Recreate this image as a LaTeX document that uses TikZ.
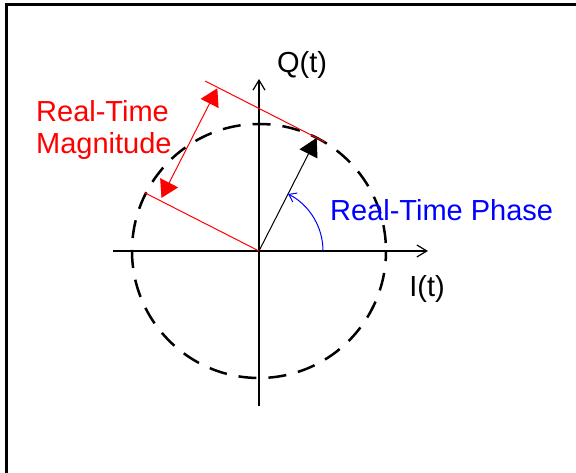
\documentclass[tikz,border=0pt]{standalone}
\usepackage{fontspec}
\setmainfont{Liberation Sans}
\usetikzlibrary{arrows.meta, calc}

\begin{document}
\begin{tikzpicture}[x=1pt, y=1pt,
    lbl/.style={font=\fontsize{29}{32}\selectfont, inner sep=0pt},
    axis/.style={line width=2pt, -{Straight Barb[length=10pt,width=12pt,line width=1.2pt]}},
    redline/.style={red, line width=1pt},
    bigtip/.style={Triangle[length=18pt,width=20pt]}]
    \useasboundingbox (0,0) rectangle (576,473);
    \draw[line width=3pt] (6,0) -- (6,468) -- (576,468);

    \coordinate (O) at (259,222);
    \coordinate (T) at ($(O)+(63:127)$);
    \coordinate (xl) at (113,222);
    \coordinate (xr) at (428,222);
    \coordinate (yb) at (259,67);
    \coordinate (yt) at (259,394);
    \coordinate (U1) at ($(T)+(153:125)$);
    \coordinate (U2) at ($(T)+(-27:9)$);
    \coordinate (L1) at ($(O)+(153:128)$);
    \coordinate (M1) at ($(O)+(153:111)+(63:3)$);
    \coordinate (M2) at ($(O)+(153:111)+(63:126)$);
    \coordinate (P0) at ($(O)+(64,0)$);

    \draw[axis] (xl) -- (xr);
    \draw[axis] (yb) -- (yt);
    \draw[line width=2.5pt, dash pattern=on 18pt off 12pt, dash phase=22pt] (O) circle[radius=127];

    \draw[redline] (U1) -- (U2);
    \draw[redline] (O) -- (L1);
    \draw[redline, {Triangle[length=17pt,width=20pt]}-{Triangle[length=17pt,width=20pt]}] (M1) -- (M2);
    \draw[line width=1pt, -{Triangle[length=18pt,width=20pt]}] (O) -- (T);
    \draw[blue, line width=1pt, -{Straight Barb[length=7pt,width=10pt]}] (P0) arc[start angle=0, end angle=63, radius=64];

    \node[lbl, anchor=base] (qlbl) at (302,400) {Q(t)};
    \node[lbl, anchor=base] (ilbl) at (427,176) {I(t)};
    \node[lbl, anchor=base west, blue] (phase) at (330,252) {Real-Time Phase};
    \node[lbl, anchor=base west, red, align=left] (mag) at (36,319) {Real-Time\\Magnitude};
\end{tikzpicture}
\end{document}
